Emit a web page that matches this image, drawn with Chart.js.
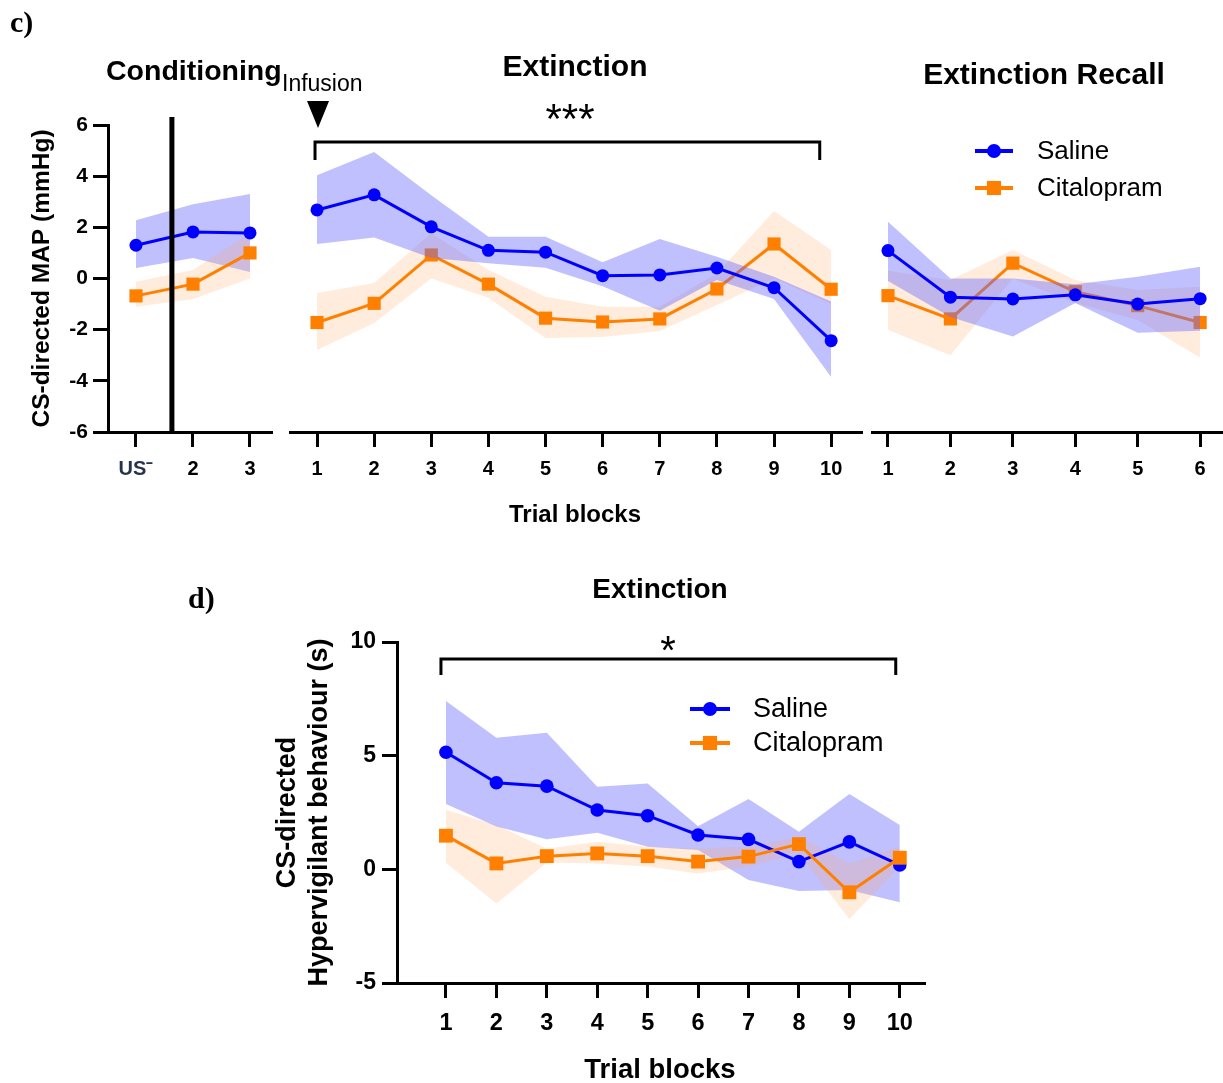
<!DOCTYPE html>
<html lang="en">
<head>
<meta charset="utf-8">
<title>CS-directed MAP and hypervigilant behaviour</title>
<script src="https://cdn.jsdelivr.net/npm/chart.js@4.4.1/dist/chart.umd.min.js"></script>
<style>
  html, body { margin: 0; padding: 0; background: #fff; }
  #page { position: relative; width: 1223px; height: 1083px; overflow: hidden; background: #fff; }
  #page canvas { position: absolute; left: 0; top: 0; }
</style>
</head>
<body>
<div id="page">
  <canvas id="mapConditioning" width="1223" height="1083"></canvas>
  <canvas id="mapExtinction" width="1223" height="1083"></canvas>
  <canvas id="mapRecall" width="1223" height="1083"></canvas>
  <canvas id="hvExtinction" width="1223" height="1083"></canvas>
</div>
<script>
// ---------- data ----------
const seriesNames = ['Saline', 'Citalopram'];

// Panel c: CS-directed MAP (mmHg), mean with shaded error band
const conditioningBlocks = ['US\u207B', '2', '3'];
const conditioningSaline = [1.30, 1.82, 1.78];
const conditioningSalineUpper = [2.28, 2.90, 3.30];
const conditioningSalineLower = [0.41, 0.80, 0.25];
const conditioningCitalopram = [-0.68, -0.22, 1.00];
const conditioningCitalopramUpper = [-0.13, 0.33, 1.78];
const conditioningCitalopramLower = [-1.10, -0.80, 0.00];

const extinctionBlocks = ['1', '2', '3', '4', '5', '6', '7', '8', '9', '10'];
const extinctionSaline = [2.68, 3.27, 2.02, 1.10, 1.03, 0.11, 0.14, 0.41, -0.36, -2.43];
const extinctionSalineUpper = [4.04, 4.94, 3.25, 1.63, 1.63, 0.64, 1.54, 0.85, 0.07, -0.90];
const extinctionSalineLower = [1.35, 1.60, 0.80, 0.60, 0.42, -0.30, -1.26, -0.06, -0.80, -3.85];
const extinctionCitalopram = [-1.72, -0.97, 0.92, -0.22, -1.55, -1.70, -1.58, -0.41, 1.35, -0.42];
const extinctionCitalopramUpper = [-0.57, -0.18, 1.78, 0.33, -0.71, -1.10, -1.10, 0.20, 2.64, 1.11];
const extinctionCitalopramLower = [-2.79, -1.74, 0.00, -0.75, -2.33, -2.29, -2.05, -1.04, 0.00, -1.00];

const recallBlocks = ['1', '2', '3', '4', '5', '6'];
const recallSaline = [1.09, -0.73, -0.80, -0.64, -1.00, -0.79];
const recallSalineUpper = [2.22, 0.00, 0.00, -0.22, 0.07, 0.46];
const recallSalineLower = [-0.10, -1.50, -2.27, -0.96, -2.12, -2.04];
const recallCitalopram = [-0.67, -1.58, 0.60, -0.52, -1.06, -1.72];
const recallCitalopramUpper = [0.30, -0.06, 1.11, -0.06, -0.45, -0.32];
const recallCitalopramLower = [-2.00, -3.00, 0.00, -0.96, -1.62, -3.10];

// Panel d: CS-directed hypervigilant behaviour (s) during extinction
const hvBlocks = ['1', '2', '3', '4', '5', '6', '7', '8', '9', '10'];
const hvSaline = [5.15, 3.81, 3.66, 2.61, 2.36, 1.51, 1.32, 0.34, 1.21, 0.19];
const hvSalineUpper = [7.40, 5.79, 6.01, 3.63, 3.78, 1.90, 3.09, 1.65, 3.31, 1.95];
const hvSalineLower = [2.87, 1.88, 1.32, 1.61, 0.99, 0.85, -0.47, -0.95, -0.91, -1.45];
const hvCitalopram = [1.48, 0.26, 0.58, 0.70, 0.58, 0.34, 0.56, 1.11, -1.01, 0.51];
const hvCitalopramUpper = [2.61, 1.95, 0.90, 1.21, 0.99, 0.92, 0.99, 1.44, 0.26, 0.99];
const hvCitalopramLower = [0.29, -1.50, 0.30, 0.26, 0.12, -0.18, 0.12, 0.71, -2.20, 0.12];

// ---------- styling ----------
const SANS = '"Liberation Sans", Arial, sans-serif';
const SERIF = '"Liberation Serif", "Times New Roman", serif';
const SALINE = '#0000ff';
const SALINE_BAND = 'rgba(105,105,255,0.42)';
const CITALOPRAM = '#ff8000';
const CITALOPRAM_BAND = 'rgba(255,160,80,0.2)';
const W = 1223, H = 1083;

const pts = arr => arr.map((y, i) => ({ x: i + 1, y }));

// mean line with markers, plus an upper/lower pair filled between them
function seriesDatasets(name, mean, upper, lower, color, band, marker, radius, lineOrder, bandOrder) {
  const edge = { borderWidth: 0, borderColor: 'rgba(0,0,0,0)', pointRadius: 0, tension: 0 };
  return [
    { label: name, data: pts(mean), borderColor: color, backgroundColor: color, borderWidth: 3,
      pointStyle: marker, pointRadius: radius, pointBackgroundColor: color, pointBorderColor: color,
      pointBorderWidth: 0, fill: false, tension: 0, order: lineOrder },
    { label: name + ' upper', data: pts(upper), fill: false, order: bandOrder, ...edge },
    { label: name + ' lower', data: pts(lower), fill: '-1', backgroundColor: band, order: bandOrder, ...edge },
  ];
}

// stacking: 'saline' puts the whole saline series (band + line) above citalopram;
// 'lines' keeps both bands underneath and citalopram's line on top
function bothSeries(s, sU, sL, c, cU, cL, stacking, big) {
  const o = stacking === 'saline'
    ? { sLine: 1, sBand: 2, cLine: 3, cBand: 4 }
    : { sLine: 2, sBand: 4, cLine: 1, cBand: 3 };
  return [
    ...seriesDatasets(seriesNames[0], s, sU, sL, SALINE, SALINE_BAND, 'circle', big ? 6.8 : 6.5, o.sLine, o.sBand),
    ...seriesDatasets(seriesNames[1], c, cU, cL, CITALOPRAM, CITALOPRAM_BAND, 'rect', big ? 9.8 : 9.3, o.cLine, o.cBand),
  ];
}

function blockAxis(labels, min, max, fontSize, height, pad, colorFn) {
  return {
    type: 'linear', position: 'bottom', min, max,
    afterBuildTicks: s => { s.ticks = labels.map((_, i) => ({ value: i + 1 })); },
    afterFit: s => { s.height = height; },
    ticks: {
      autoSkip: false, maxRotation: 0, padding: pad,
      color: colorFn || '#000',
      font: { family: SANS, size: fontSize, weight: 'bold' },
      callback: (v, i) => labels[i],
    },
    grid: { drawOnChartArea: false, drawTicks: true, tickLength: 15, tickWidth: 3, tickColor: '#000', color: '#000' },
    border: { display: true, width: 3, color: '#000' },
  };
}

function valueAxis(min, max, step, fontSize, width, pad, title, titleSize) {
  return {
    min, max,
    afterFit: s => { s.width = width; },
    ticks: { stepSize: step, padding: pad, color: '#000', font: { family: SANS, size: fontSize, weight: 'bold' } },
    grid: { drawOnChartArea: false, drawTicks: true, tickLength: 15, tickWidth: 3, tickColor: '#000', color: '#000' },
    border: { display: true, width: 3, color: '#000' },
    title: { display: true, text: title, color: '#000', padding: 0,
             font: { family: SANS, size: titleSize, weight: 'bold' } },
  };
}

function text(ctx, str, x, y, font, align) {
  ctx.font = font;
  ctx.fillStyle = '#000';
  ctx.textAlign = align || 'left';
  ctx.textBaseline = 'middle';
  ctx.fillText(str, x, y);
}

function legend(ctx, x, y, gap, lineLen, textGap, fontSize) {
  const styles = [
    { color: SALINE, marker: 'circle', r: 7 },
    { color: CITALOPRAM, marker: 'rect', r: 10 },
  ];
  seriesNames.forEach((name, k) => {
    const yy = y + k * gap, st = styles[k];
    ctx.strokeStyle = st.color;
    ctx.lineWidth = 4;
    ctx.beginPath(); ctx.moveTo(x, yy); ctx.lineTo(x + lineLen, yy); ctx.stroke();
    ctx.fillStyle = st.color;
    Chart.helpers.drawPoint(ctx, { pointStyle: st.marker, radius: st.r, borderWidth: 0 }, x + lineLen / 2, yy);
    text(ctx, name, x + lineLen + textGap, yy + 1, `${fontSize}px ${SANS}`, 'left');
  });
}

function bracket(ctx, x1, x2, y, drop) {
  ctx.strokeStyle = '#000';
  ctx.lineWidth = 3;
  ctx.lineJoin = 'miter';
  ctx.beginPath();
  ctx.moveTo(x1, y + drop); ctx.lineTo(x1, y); ctx.lineTo(x2, y); ctx.lineTo(x2, y + drop);
  ctx.stroke();
}

const common = (padding) => ({
  responsive: false,
  animation: false,
  devicePixelRatio: 1,
  events: [],
  layout: { autoPadding: false, padding },
  plugins: { legend: { display: false }, tooltip: { enabled: false }, filler: { drawTime: 'beforeDatasetDraw' } },
});

// ---------- panel c, conditioning ----------
new Chart(document.getElementById('mapConditioning'), {
  type: 'line',
  data: { datasets: bothSeries(conditioningSaline, conditioningSalineUpper, conditioningSalineLower,
                               conditioningCitalopram, conditioningCitalopramUpper, conditioningCitalopramLower, 'lines') },
  options: {
    ...common({ left: 28, right: W - 272, top: 125, bottom: H - 432 - 60 }),
    scales: {
      x: blockAxis(conditioningBlocks, 0.509, 3.386, 20, 60, 10, c => (c.index === 0 ? '#27324c' : '#000')),
      y: valueAxis(-6, 6, 2, 21, 80, 5, 'CS-directed MAP (mmHg)', 24.5),
    },
  },
  plugins: [{
    id: 'conditioningDecor',
    afterDraw(chart) {
      const ctx = chart.ctx, x = chart.scales.x;
      ctx.save();
      text(ctx, 'c)', 10, 24, `bold 30px ${SERIF}`);
      text(ctx, 'Conditioning', 106, 72, `bold 28.5px ${SANS}`);
      text(ctx, 'Infusion', 282, 85, `23px ${SANS}`);
      // divider between US- block and the following blocks
      const xd = x.getPixelForValue(1.63);
      ctx.fillStyle = '#000';
      ctx.fillRect(xd - 2.5, 117, 5, chart.chartArea.bottom - 117);
      text(ctx, 'Trial blocks', 575, 515, `bold 24px ${SANS}`, 'center');
      ctx.restore();
    },
  }],
});

// ---------- panel c, extinction ----------
new Chart(document.getElementById('mapExtinction'), {
  type: 'line',
  data: { datasets: bothSeries(extinctionSaline, extinctionSalineUpper, extinctionSalineLower,
                               extinctionCitalopram, extinctionCitalopramUpper, extinctionCitalopramLower, 'saline') },
  options: {
    ...common({ left: 290, right: W - 862, top: 125, bottom: H - 432 - 60 }),
    scales: {
      x: blockAxis(extinctionBlocks, 0.527, 10.54, 20, 60, 10),
      y: { display: false, min: -6, max: 6 },
    },
  },
  plugins: [{
    id: 'extinctionDecor',
    afterDraw(chart) {
      const ctx = chart.ctx, x = chart.scales.x;
      ctx.save();
      text(ctx, 'Extinction', 575, 68, `bold 30px ${SANS}`, 'center');
      // infusion marker
      const xt = x.getPixelForValue(1) + 1;
      ctx.fillStyle = '#000';
      ctx.beginPath(); ctx.moveTo(xt - 11, 101); ctx.lineTo(xt + 11, 101); ctx.lineTo(xt, 128); ctx.closePath(); ctx.fill();
      bracket(ctx, x.getPixelForValue(1) - 2, x.getPixelForValue(9.8), 142, 18);
      text(ctx, '***', 570, 121, `42px ${SANS}`, 'center');
      ctx.restore();
    },
  }],
});

// ---------- panel c, extinction recall ----------
new Chart(document.getElementById('mapRecall'), {
  type: 'line',
  data: { datasets: bothSeries(recallSaline, recallSalineUpper, recallSalineLower,
                               recallCitalopram, recallCitalopramUpper, recallCitalopramLower, 'saline') },
  options: {
    ...common({ left: 872, right: 1, top: 125, bottom: H - 432 - 60 }),
    scales: {
      x: blockAxis(recallBlocks, 0.744, 6.35, 20, 60, 10),
      y: { display: false, min: -6, max: 6 },
    },
  },
  plugins: [{
    id: 'recallDecor',
    afterDraw(chart) {
      const ctx = chart.ctx;
      ctx.save();
      text(ctx, 'Extinction Recall', 1044, 76, `bold 30px ${SANS}`, 'center');
      legend(ctx, 975, 151, 37, 38, 24, 26);
      ctx.restore();
    },
  }],
});

// ---------- panel d ----------
new Chart(document.getElementById('hvExtinction'), {
  type: 'line',
  data: { datasets: bothSeries(hvSaline, hvSalineUpper, hvSalineLower,
                               hvCitalopram, hvCitalopramUpper, hvCitalopramLower, 'lines', true) },
  options: {
    ...common({ left: 271, right: W - 925, top: 642, bottom: H - 983 - 60 }),
    scales: {
      x: blockAxis(hvBlocks, 0.029, 10.5, 23.5, 60, 11),
      y: valueAxis(-5, 10, 5, 23, 126, 6, ['CS-directed', 'Hypervigilant behaviour (s)'], 27),
    },
  },
  plugins: [{
    id: 'hvDecor',
    afterDraw(chart) {
      const ctx = chart.ctx, x = chart.scales.x;
      ctx.save();
      text(ctx, 'd)', 188, 600, `bold 30px ${SERIF}`);
      text(ctx, 'Extinction', 660, 590, `bold 28px ${SANS}`, 'center');
      bracket(ctx, x.getPixelForValue(1) - 5, x.getPixelForValue(9.92), 659, 16);
      text(ctx, '*', 668, 653, `40px ${SANS}`, 'center');
      legend(ctx, 690, 709, 34, 40, 23, 27);
      text(ctx, 'Trial blocks', 660, 1070, `bold 27.5px ${SANS}`, 'center');
      ctx.restore();
    },
  }],
});
</script>
</body>
</html>
